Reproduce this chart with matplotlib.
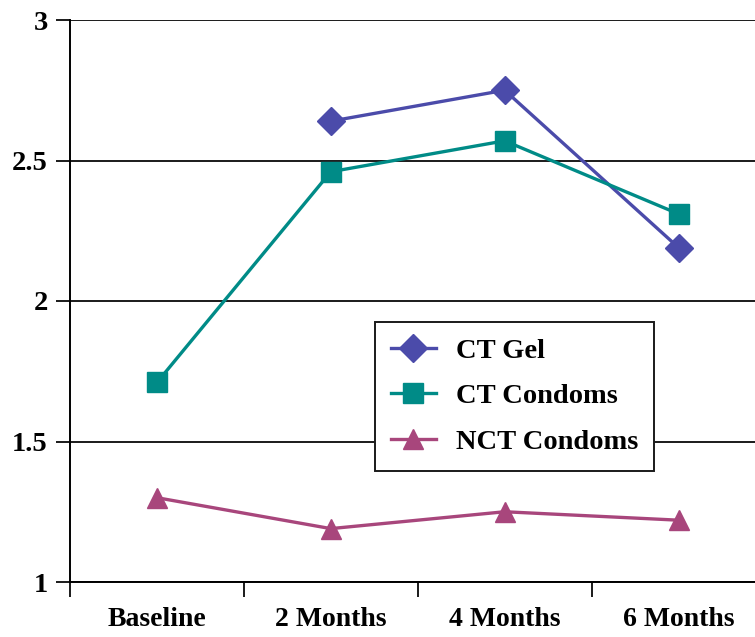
import matplotlib.pyplot as plt
import numpy as np

# values
categories = ['Baseline', '2 Months', '4 Months', '6 Months']
ct_gel = [np.nan, 2.64, 2.75, 2.19]
ct_condoms = [1.71, 2.46, 2.57, 2.31]
nct_condoms = [1.30, 1.19, 1.25, 1.22]
yticks = [1, 1.5, 2, 2.5, 3]
ytick_labels = ['1', '1.5', '2', '2.5', '3']

plt.rcParams['font.family'] = ['Liberation Serif', 'DejaVu Serif']
plt.rcParams['font.weight'] = 'bold'

fig = plt.figure(figsize=(7.55, 6.37), dpi=100)
ax = fig.add_axes([70 / 755, 55 / 637, 685 / 755, 562 / 637])

x = np.arange(len(categories)) + 0.5

for yv in yticks:
    ax.axhline(yv, color='#1a1a1a', lw=1.4, zorder=1)

ax.plot(x, ct_gel, color='#4b4baa', lw=2.4, marker='D', ms=14, label='CT Gel', zorder=3)
ax.plot(x, ct_condoms, color='#008b87', lw=2.4, marker='s', ms=14.5, label='CT Condoms', zorder=3)
ax.plot(x, nct_condoms, color='#a8467c', lw=2.4, marker='^', ms=15, label='NCT Condoms', zorder=3)

ax.set_xlim(0, 3.94)
ax.set_ylim(1, 3)

ax.set_yticks(yticks)
ax.set_yticklabels(ytick_labels)
ax.set_xticks([0, 1, 2, 3])
ax.set_xticklabels([])
ax.set_xticks(x, minor=True)
ax.set_xticklabels(categories, minor=True)

ax.tick_params(axis='y', length=10, width=1.4, color='#1a1a1a', labelsize=20.5, pad=6)
ax.tick_params(axis='x', which='major', length=11, width=1.4, color='#1a1a1a')
ax.tick_params(axis='x', which='minor', length=0, labelsize=20, pad=18)

for side in ['top', 'right']:
    ax.spines[side].set_visible(False)
ax.spines['left'].set_linewidth(1.4)
ax.spines['bottom'].set_linewidth(1.4)
ax.spines['left'].set_bounds(1, 3)

leg = ax.legend(loc='upper left', bbox_to_anchor=(305 / 685, (582 - 322) / 562),
                frameon=True, fancybox=False, handlelength=1.6,
                borderpad=0.55, labelspacing=0.7, handletextpad=0.7,
                borderaxespad=0, prop={'weight': 'bold', 'size': 20.5})
leg.get_frame().set_edgecolor('#1a1a1a')
leg.get_frame().set_linewidth(1.4)
leg.get_frame().set_alpha(1)

fig.savefig('out.png', dpi=100)
